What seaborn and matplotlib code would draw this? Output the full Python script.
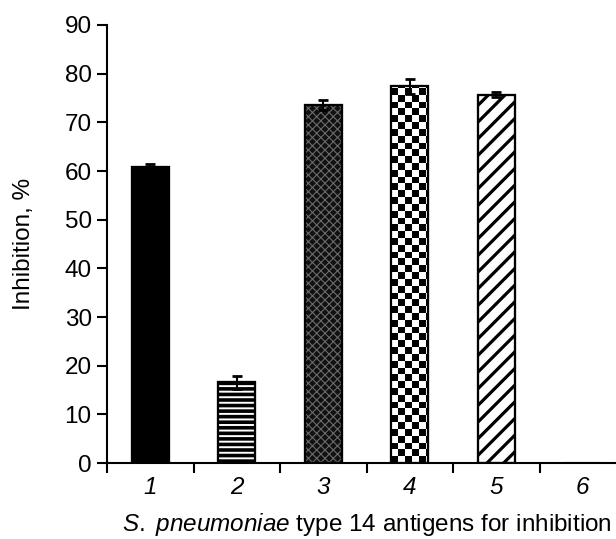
import numpy as np
import pandas as pd
import seaborn as sns
import matplotlib
matplotlib.use('Agg')
import matplotlib.pyplot as plt
from matplotlib.patches import Rectangle

# data
antigens = ['1', '2', '3', '4', '5', '6']
inhibition = [60.8, 16.6, 73.5, 77.4, 75.7, 0.0]
inhibition_err = [0.6, 1.3, 1.0, 1.5, 0.5, 0.0]

sns.set_style('ticks')
plt.rcParams['font.family'] = ['Liberation Sans', 'DejaVu Sans']
plt.rcParams['mathtext.fontset'] = 'custom'
plt.rcParams['mathtext.rm'] = 'Liberation Sans'
plt.rcParams['mathtext.it'] = 'Liberation Sans:italic'
for key in ['text.color', 'axes.labelcolor', 'xtick.color', 'ytick.color', 'axes.edgecolor']:
    plt.rcParams[key] = 'black'

FS = 17.5

df = pd.DataFrame({'antigen': antigens, 'inhibition': inhibition, 'err': inhibition_err})


def add_hatch(ax, patch, hatch, color, lw):
    # hatch layer on top of a seaborn bar, same geometry as the bar
    with plt.rc_context({'hatch.linewidth': lw, 'hatch.color': color}):
        r = Rectangle(patch.get_xy(), patch.get_width(), patch.get_height(),
                      facecolor='none', edgecolor=color, linewidth=0, hatch=hatch, zorder=3)
        if hasattr(r, 'set_hatch_linewidth'):
            r.set_hatch_linewidth(lw)
    ax.add_patch(r)


def add_checker(ax, patch, ncols=6, sq_h=1.4):
    x0, w, h = patch.get_x(), patch.get_width(), patch.get_height()
    sq_w = w / 5.5
    nrows = int(np.ceil(h / sq_h))
    board = np.indices((nrows, ncols)).sum(axis=0) % 2
    im = ax.imshow(board, cmap='gray', extent=(x0, x0 + ncols * sq_w, 0, nrows * sq_h),
                   aspect='auto', interpolation='nearest', origin='lower', zorder=3)
    im.set_clip_path(patch)


fig = plt.figure(figsize=(6.16, 5.39), dpi=100)
ax = fig.add_axes([107 / 616, 1 - 463 / 539, 519 / 616, 438 / 539])

sns.barplot(data=df, x='antigen', y='inhibition', order=antigens, color='white',
            saturation=1, edgecolor='black', linewidth=1.5, width=0.43, ax=ax, errorbar=None, zorder=2)

bars = ax.patches[:len(antigens)]
bars[0].set_facecolor('black')
bars[1].set_facecolor('black')
add_hatch(ax, bars[1], '---', 'white', 1.4)
bars[2].set_facecolor('#111111')
add_hatch(ax, bars[2], 'xxxx', '#6a6a6a', 0.8)
add_checker(ax, bars[3])
add_hatch(ax, bars[4], '//', 'black', 2.3)

# outlines on top of the patterns
for b, v in zip(bars, inhibition):
    if v > 0:
        ax.add_patch(Rectangle(b.get_xy(), b.get_width(), b.get_height(),
                               facecolor='none', edgecolor='black', linewidth=1.6, zorder=4))

mask = df['err'] > 0
ax.errorbar(np.arange(len(antigens))[mask], df['inhibition'][mask], yerr=df['err'][mask],
            fmt='none', ecolor='black', elinewidth=1.5, capsize=3.5, capthick=2, zorder=5)

ax.set_xlim(-0.5, len(antigens) - 0.5)
ax.set_ylim(0, 90)
ax.set_yticks(range(0, 91, 10))
ax.set_xticks(np.arange(-0.5, len(antigens), 1.0), minor=True)
ax.tick_params(axis='x', which='major', length=0, pad=9, labelsize=FS)
ax.tick_params(axis='x', which='minor', length=7, width=1.5, color='black')
ax.tick_params(axis='y', length=7, width=1.5, pad=4, labelsize=FS, color='black')
for t in ax.get_xticklabels():
    t.set_fontstyle('italic')

ax.set_ylabel('Inhibition, %', fontsize=FS, labelpad=21)
ax.set_xlabel(r'$\it{S.\ pneumoniae}$ type 14 antigens for inhibition', fontsize=FS, labelpad=9)

sns.despine(ax=ax)
for s in ['left', 'bottom']:
    ax.spines[s].set_linewidth(1.5)
    ax.spines[s].set_color('black')
ax.spines['bottom'].set_zorder(6)

fig.savefig('out.png', dpi=100)
